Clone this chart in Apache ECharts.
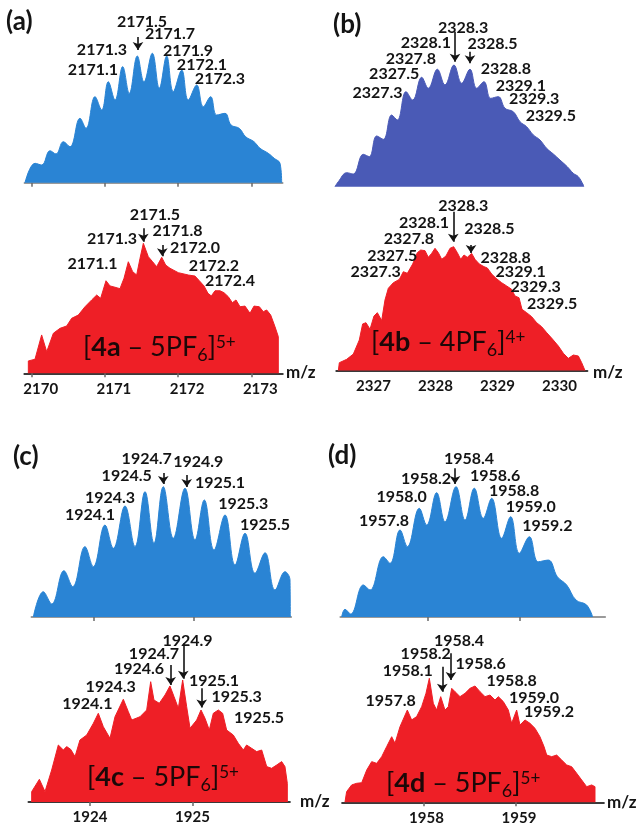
<!DOCTYPE html>
<html>
<head>
<meta charset="utf-8">
<script src="https://cdn.jsdelivr.net/npm/echarts@6.0.0/dist/echarts.min.js"></script>
<style>
  html, body { margin: 0; background: #fff; }
  #chart { width: 640px; height: 827px; }
</style>
</head>
<body>
<div id="chart"></div>
<script>
// isotope patterns: [m/z, relative intensity %]; sim = calculated (blue), exp = measured (red)
const simA = [[2169.908,0],[2170.045,15],[2170.137,13.7],[2170.250,24.7],[2170.332,22.2],[2170.432,31.7],[2170.523,27.8],[2170.660,49.8],[2170.742,42],[2170.865,66.5],[2170.956,56.2],[2171.047,78],[2171.138,63.9],[2171.243,89.7],[2171.333,69],[2171.443,97.9],[2171.534,78],[2171.648,100],[2171.743,73],[2171.844,97.9],[2171.934,70.4],[2172.049,87],[2172.139,63.9],[2172.254,75.5],[2172.344,58.7],[2172.445,66.5],[2172.527,52.3],[2172.641,53.6],[2172.723,44.6],[2172.836,42],[2172.923,35.5],[2173.037,31.7],[2173.119,26.6],[2173.232,22.7],[2173.314,18.8],[2173.392,15],[2173.415,0]];
const expA = [[2169.954,0],[2169.954,9.5],[2170.045,10.8],[2170.136,29.5],[2170.205,16.6],[2170.296,30.8],[2170.387,34.6],[2170.478,36.4],[2170.546,42.3],[2170.637,44.8],[2170.728,51.2],[2170.819,56.4],[2170.888,60.2],[2170.942,57.7],[2171.015,71.2],[2171.070,67.2],[2171.138,66.2],[2171.206,65.1],[2171.261,73.1],[2171.320,85.8],[2171.379,78.2],[2171.434,75.6],[2171.480,88.5],[2171.525,100],[2171.593,89.7],[2171.652,85.8],[2171.707,82],[2171.776,89.2],[2171.830,83.3],[2171.889,80.8],[2172.003,77.4],[2172.140,75.6],[2172.231,74.8],[2172.290,71.2],[2172.354,67.2],[2172.408,61.5],[2172.454,59.5],[2172.504,63.5],[2172.572,63.5],[2172.627,62],[2172.686,58.9],[2172.741,54.3],[2172.791,56.4],[2172.846,51.2],[2172.914,51.7],[2172.982,46.2],[2173.037,51.7],[2173.110,51.2],[2173.164,47.4],[2173.210,48.7],[2173.265,44.8],[2173.324,35.8],[2173.369,28.2],[2173.369,0]];

const simB = [[2326.379,0],[2326.432,4.1],[2326.568,11.5],[2326.674,10.4],[2326.835,26.6],[2326.932,24.7],[2327.051,41.7],[2327.159,38.9],[2327.293,58.9],[2327.384,54.8],[2327.524,78.1],[2327.632,71.2],[2327.777,89.9],[2327.884,80.9],[2328.030,96.5],[2328.153,83.6],[2328.298,100],[2328.422,85],[2328.556,96.5],[2328.664,80.9],[2328.782,86.3],[2328.890,72.6],[2329.013,74],[2329.121,64.4],[2329.255,61.6],[2329.363,53.4],[2329.470,49.3],[2329.578,42.5],[2329.685,38.4],[2329.793,31.5],[2329.900,26.9],[2330.008,21.9],[2330.126,16.4],[2330.223,11],[2330.304,8.2],[2330.384,1.4],[2330.390,0]];
const expB = [[2326.433,0],[2326.449,6.3],[2326.567,9],[2326.675,13.3],[2326.771,24.6],[2326.825,37.6],[2326.879,38.6],[2326.944,33.3],[2327.008,44],[2327.062,46.7],[2327.132,40.3],[2327.185,56.9],[2327.239,66.4],[2327.320,70.9],[2327.417,73.6],[2327.481,79.8],[2327.546,78.5],[2327.632,86],[2327.707,95.2],[2327.761,97.3],[2327.831,96.8],[2327.884,91.4],[2327.938,94.6],[2327.992,98.7],[2328.046,95.2],[2328.100,89.8],[2328.169,92.5],[2328.234,98.7],[2328.293,100],[2328.352,95.2],[2328.406,89.8],[2328.460,93.3],[2328.513,91.4],[2328.583,94.6],[2328.637,89.8],[2328.707,86],[2328.782,83.9],[2328.836,82.8],[2328.906,77.9],[2328.976,74.5],[2329.067,70.9],[2329.148,68.3],[2329.228,65.6],[2329.282,60.2],[2329.347,58.8],[2329.395,49.4],[2329.470,46.7],[2329.551,43.5],[2329.632,38.6],[2329.712,35.4],[2329.793,30.6],[2329.890,25.2],[2329.981,19.8],[2330.062,13.9],[2330.142,9.8],[2330.223,12.5],[2330.304,11.7],[2330.358,6.3],[2330.411,0]];

const simC = [[1923.400,0],[1923.500,19.4],[1923.584,10],[1923.707,35.5],[1923.794,23.3],[1923.917,54],[1924.000,38.6],[1924.117,70.6],[1924.200,52.7],[1924.317,85.2],[1924.417,54],[1924.517,96.2],[1924.607,56.6],[1924.700,100],[1924.800,60.4],[1924.917,98.8],[1925.017,59.1],[1925.110,89.8],[1925.207,51.4],[1925.317,78.3],[1925.417,39.9],[1925.517,64.2],[1925.617,33.5],[1925.717,49.3],[1925.817,20.7],[1925.917,34.8],[1925.967,28.4],[1925.970,0]];
const expC = [[1923.431,0],[1923.431,8.5],[1923.506,18.6],[1923.561,8.5],[1923.626,26.2],[1923.691,46.7],[1923.740,42.6],[1923.772,45.4],[1923.811,43.2],[1923.854,37.2],[1923.902,50.8],[1923.968,54.9],[1924.033,64.5],[1924.081,72.7],[1924.130,61.7],[1924.195,52.2],[1924.244,69.9],[1924.325,84.2],[1924.374,74],[1924.407,67.2],[1924.488,69.9],[1924.553,75.4],[1924.592,98.6],[1924.624,83.6],[1924.676,80.9],[1924.732,87.7],[1924.780,95.1],[1924.820,86.3],[1924.862,76.8],[1924.904,100],[1924.943,78.1],[1924.976,60.4],[1925.041,67.2],[1925.083,75.4],[1925.122,68.6],[1925.164,59],[1925.203,72.7],[1925.252,75.4],[1925.294,72.7],[1925.333,59],[1925.398,54.9],[1925.447,48.1],[1925.496,42.6],[1925.528,46.7],[1925.577,44],[1925.626,41.3],[1925.675,42.6],[1925.724,29],[1925.772,27.6],[1925.821,30.3],[1925.870,33.1],[1925.902,29],[1925.925,15.3],[1925.925,0]];

const simD = [[1957.076,0],[1957.112,5.9],[1957.173,2.3],[1957.310,24.6],[1957.382,20.7],[1957.526,46.3],[1957.598,41.2],[1957.706,66.8],[1957.785,54],[1957.914,83.4],[1957.993,70.6],[1958.101,95.4],[1958.191,73.1],[1958.310,100],[1958.407,74.4],[1958.507,98.8],[1958.604,75.7],[1958.694,91.1],[1958.802,60.4],[1958.899,77],[1958.993,48.9],[1959.101,61.6],[1959.198,42.4],[1959.306,43.7],[1959.403,30.9],[1959.503,24.6],[1959.604,13],[1959.719,9.2],[1959.784,0]];
const expD = [[1957.151,0],[1957.169,8.6],[1957.223,14],[1957.277,15.3],[1957.332,15.8],[1957.386,26],[1957.440,32.8],[1957.494,31.4],[1957.548,36.8],[1957.602,44.9],[1957.656,52.9],[1957.692,47.6],[1957.746,61],[1957.825,74.4],[1957.872,66.4],[1957.926,69.1],[1957.980,77.1],[1958.027,87.9],[1958.063,100],[1958.106,79.8],[1958.142,74.4],[1958.186,85.2],[1958.232,74.4],[1958.268,77.1],[1958.305,91.9],[1958.341,89.2],[1958.395,85.2],[1958.449,87.9],[1958.503,91.9],[1958.557,93.8],[1958.611,89.2],[1958.665,85.2],[1958.719,86.5],[1958.773,82.5],[1958.809,85.2],[1958.863,81.2],[1958.917,74.4],[1958.953,63.7],[1959.007,74.4],[1959.043,62.3],[1959.097,66.4],[1959.151,63.7],[1959.205,59.7],[1959.259,52.9],[1959.303,44.9],[1959.332,38.1],[1959.386,36.8],[1959.440,38.1],[1959.494,34.1],[1959.548,30.1],[1959.602,28.7],[1959.656,23.4],[1959.710,18],[1959.764,12.6],[1959.818,14],[1959.854,12.6],[1959.854,0]];

// peak annotations: [text, m/z, intensity] and arrows: [m/z, from, to]
const simALabels = [['2171.5',2171.507,124.2],['2171.7',2171.889,114.9],['2171.3',2170.960,102.5],['2171.9',2172.135,101.8],['2171.1',2170.837,87.1],['2172.1',2172.326,91],['2172.3',2172.572,80.1]];
const simAArrows = [[2171.452,112.6,102.5]];
const expALabels = [['2171.5',2171.684,121.8],['2171.3',2171.097,103.3],['2171.8',2171.992,109.5],['2172.0',2172.231,96.8],['2171.1',2170.831,84.1],['2172.2',2172.49,82.5],['2172.4',2172.709,71]];
const expAArrows = [[2171.525,111.5,101.2],[2171.784,98.7,90]];

const simBLabels = [['2328.3',2328.445,130.2],['2328.1',2327.844,117.8],['2328.5',2328.919,117.1],['2327.8',2327.602,104.8],['2328.8',2329.134,96.5],['2327.5',2327.334,92.4],['2329.1',2329.376,82.9],['2327.3',2327.065,77.4],['2329.3',2329.592,71.9],['2329.5',2329.860,58.3]];
const simBArrows = [[2328.315,127.4,102.7],[2328.556,110.9,101.4]];
const expBLabels = [['2328.3',2328.448,133],['2328.1',2327.815,118.9],['2328.5',2328.869,114.3],['2327.8',2327.571,106.2],['2327.5',2327.303,92.7],['2328.8',2329.132,91.4],['2327.3',2327.035,79.3],['2329.1',2329.374,79.3],['2329.3',2329.615,67.2],['2329.5',2329.882,53.7]];
const expBArrows = [[2328.287,128.3,104],[2328.573,101.4,95]];

const simCLabels = [['1924.7',1924.534,121.3],['1924.9',1925.050,119.2],['1924.5',1924.334,108.4],['1925.1',1925.267,103.3],['1924.3',1924.167,91.1],['1925.3',1925.500,86.8],['1924.1',1923.967,78.5],['1925.5',1925.717,70.6]];
const simCArrows = [[1924.700,110.5,102.1],[1924.934,109,99.8]];
const expCLabels = [['1924.9',1924.951,132.2],['1924.7',1924.624,121.3],['1924.6',1924.478,109],['1925.1',1925.210,99.4],['1924.3',1924.202,94],['1925.3',1925.431,86.3],['1924.1',1923.974,80.3],['1925.5',1925.649,68.9]];
const expCArrows = [[1924.910,130.1,101],[1924.787,112.3,96],[1925.090,93.2,77.5]];

const simDLabels = [['1958.4',1958.450,121.3],['1958.6',1958.731,108.4],['1958.2',1957.986,105.8],['1958.8',1958.936,97],['1958.0',1957.723,92.1],['1959.0',1959.116,84.6],['1957.8',1957.533,73.9],['1959.2',1959.295,70.1]];
const simDArrows = [[1958.299,114.1,102.1]];
const expDLabels = [['1958.4',1958.384,130.3],['1958.2',1958.024,119.6],['1958.6',1958.618,111.5],['1958.1',1957.830,106.1],['1958.8',1958.953,98.1],['1959.0',1959.195,84.6],['1957.8',1957.645,81.8],['1959.2',1959.357,72.6]];
const expDArrows = [[1958.203,109.4,89.2],[1958.297,120.2,98.6]];

// axis tick values
const ticksA = [2170, 2171, 2172, 2173];
const ticksB = [2327, 2328, 2329, 2330];
const ticksC = [1924, 1925];
const ticksD = [1958, 1959];

// ion formulas: [compound, PF6 lost, charge]
const ionA = ['4a', '5', '5+'];
const ionB = ['4b', '4', '4+'];
const ionC = ['4c', '5', '5+'];
const ionD = ['4d', '5', '5+'];

const BLUE = '#2a84d4';
const BLUE_B = '#4a5ab6';
const RED = '#ee1f26';

// pixel layout of each plot: ticks[0] sits at tick0Px, ppu = px per m/z unit,
// base = baseline y, peakPx = height of the 100 % peak
const plots = [
  { data: simA, labels: simALabels, arrows: simAArrows, color: BLUE, smooth: 0.4, ticks: ticksA, showLabels: false, axisLine: true, showTicks: true,
    xMin: 2169.9, xMax: 2173.43, tick0Px: 31.7, ppu: 73.2, top: 8, base: 182.7, peakPx: 129.4, labelShift: 0 },
  { data: expA, labels: expALabels, arrows: expAArrows, color: RED, smooth: false, ticks: ticksA, showLabels: true, axisLine: true, showTicks: true,
    xMin: 2169.9, xMax: 2173.43, tick0Px: 31.7, ppu: 73.2, top: 195, base: 373.3, peakPx: 130, labelShift: 18 },
  { data: simB, labels: simBLabels, arrows: simBArrows, color: BLUE_B, smooth: 0.4, ticks: ticksB, showLabels: false, axisLine: false, showTicks: false,
    xMin: 2326.35, xMax: 2330.45, tick0Px: 373.5, ppu: 62, top: 8, base: 186.7, peakPx: 121.7, labelShift: 0 },
  { data: expB, labels: expBLabels, arrows: expBArrows, color: RED, smooth: false, ticks: ticksB, showLabels: true, axisLine: true, showTicks: false,
    xMin: 2326.4, xMax: 2330.45, tick0Px: 373.5, ppu: 62, top: 195, base: 370.5, peakPx: 123.8, labelShift: 0 },
  { data: simC, labels: simCLabels, arrows: simCArrows, color: BLUE, smooth: 0.4, ticks: ticksC, showLabels: false, axisLine: true, showTicks: true,
    xMin: 1923.38, xMax: 1925.98, tick0Px: 93.3, ppu: 100, top: 435, base: 617, peakPx: 130.3, labelShift: 0 },
  { data: expC, labels: expCLabels, arrows: expCArrows, color: RED, smooth: false, ticks: ticksC, showLabels: true, axisLine: true, showTicks: true,
    xMin: 1923.4, xMax: 1925.95, tick0Px: 90, ppu: 102.5, top: 628, base: 802, peakPx: 122, labelShift: 0 },
  { data: simD, labels: simDLabels, arrows: simDArrows, color: BLUE, smooth: 0.4, ticks: ticksD, showLabels: false, axisLine: true, showTicks: true,
    xMin: 1957.06, xMax: 1959.92, tick0Px: 427.3, ppu: 92.7, top: 435, base: 617, peakPx: 130.3, labelShift: 0 },
  { data: expD, labels: expDLabels, arrows: expDArrows, color: RED, smooth: false, ticks: ticksD, showLabels: true, axisLine: true, showTicks: true,
    xMin: 1957.12, xMax: 1959.95, tick0Px: 423.5, ppu: 92.5, top: 628, base: 802.3, peakPx: 124, labelShift: 6 }
];

const FONT = 'Lato';

const grid = plots.map(p => ({
  left: p.tick0Px + (p.xMin - p.ticks[0]) * p.ppu,
  top: p.top,
  width: (p.xMax - p.xMin) * p.ppu,
  height: p.base - p.top
}));

const xAxis = plots.map((p, i) => ({
  type: 'value',
  gridIndex: i,
  min: p.xMin,
  max: p.xMax,
  splitLine: { show: false },
  axisLine: { show: p.axisLine, lineStyle: { color: p.showLabels ? '#3a3a3a' : '#7a7a7a', width: p.showLabels ? 2 : 1.5 } },
  axisTick: { show: p.showTicks, customValues: p.ticks, length: 4, lineStyle: { color: '#6a6a6a', width: 1.5 } },
  axisLabel: {
    show: p.showLabels,
    customValues: p.ticks,
    formatter: v => String(v),
    margin: 8,
    padding: [0, 0, 0, p.labelShift],
    fontFamily: FONT,
    fontWeight: 'bold',
    fontSize: 15,
    color: '#151515'
  }
}));

const yAxis = plots.map((p, i) => ({
  type: 'value',
  gridIndex: i,
  show: false,
  min: 0,
  max: (p.base - p.top) / p.peakPx * 100
}));

const series = plots.map((p, i) => ({
  type: 'line',
  xAxisIndex: i,
  yAxisIndex: i,
  data: p.data,
  symbol: 'none',
  smooth: p.smooth,
  silent: true,
  lineStyle: { width: 1, color: p.color },
  itemStyle: { color: p.color },
  areaStyle: { color: p.color, opacity: 1 },
  markPoint: {
    symbol: 'circle',
    symbolSize: 1,
    silent: true,
    itemStyle: { color: 'rgba(0,0,0,0)' },
    label: {
      show: true,
      position: 'inside',
      formatter: '{b}',
      fontFamily: FONT,
      fontWeight: 'bold',
      fontSize: 16,
      color: '#141414'
    },
    data: p.labels.map(([t, x, y]) => ({ name: t, coord: [x, y] }))
  },
  markLine: {
    silent: true,
    symbol: ['none', 'arrow'],
    symbolSize: 8,
    label: { show: false },
    lineStyle: { color: '#141414', width: 1.6, type: 'solid' },
    data: p.arrows.map(([x, y1, y2]) => [{ coord: [x, y1] }, { coord: [x, y2] }])
  }
}));

function ionText(ion, left, top) {
  const [name, n, charge] = ion;
  const base = { fontSize: 27, fontFamily: FONT, fill: '#1c0808', lineHeight: 30, verticalAlign: 'top', padding: [0, 0, 4, 0] };
  return {
    type: 'text',
    left: left,
    top: top,
    z: 10,
    style: {
      text: '{m|[}{b|' + name + '}{m| – ' + n + 'PF}{sub|6}{m|]}{sup|' + charge + '}',
      rich: {
        m: base,
        b: Object.assign({}, base, { fontWeight: 'bold' }),
        sub: { fontSize: 18, fontFamily: FONT, fill: '#1c0808', lineHeight: 17, verticalAlign: 'bottom' },
        sup: { fontSize: 17, fontFamily: FONT, fill: '#1c0808', lineHeight: 17, verticalAlign: 'top' }
      }
    }
  };
}

function plainText(text, left, top, size) {
  return {
    type: 'text', left: left, top: top, z: 10,
    style: { text: text, fontFamily: FONT, fontWeight: 'bold', fontSize: size, fill: '#141414' }
  };
}

const chart = echarts.init(document.getElementById('chart'), null, { renderer: 'canvas' });
chart.setOption({
  backgroundColor: '#ffffff',
  animation: false,
  grid: grid,
  xAxis: xAxis,
  yAxis: yAxis,
  series: series,
  graphic: [
    plainText('(a)', 6, 9, 26),
    plainText('(b)', 333, 12, 26),
    plainText('(c)', 13, 444, 26),
    plainText('(d)', 328, 443, 26),
    plainText('m/z', 286, 364, 17),
    plainText('m/z', 593, 364, 17),
    plainText('m/z', 300, 793, 17),
    plainText('m/z', 607, 794, 17),
    ionText(ionA, 83, 334),
    ionText(ionB, 371, 329),
    ionText(ionC, 87, 764),
    ionText(ionD, 386, 770)
  ]
});
</script>
</body>
</html>
